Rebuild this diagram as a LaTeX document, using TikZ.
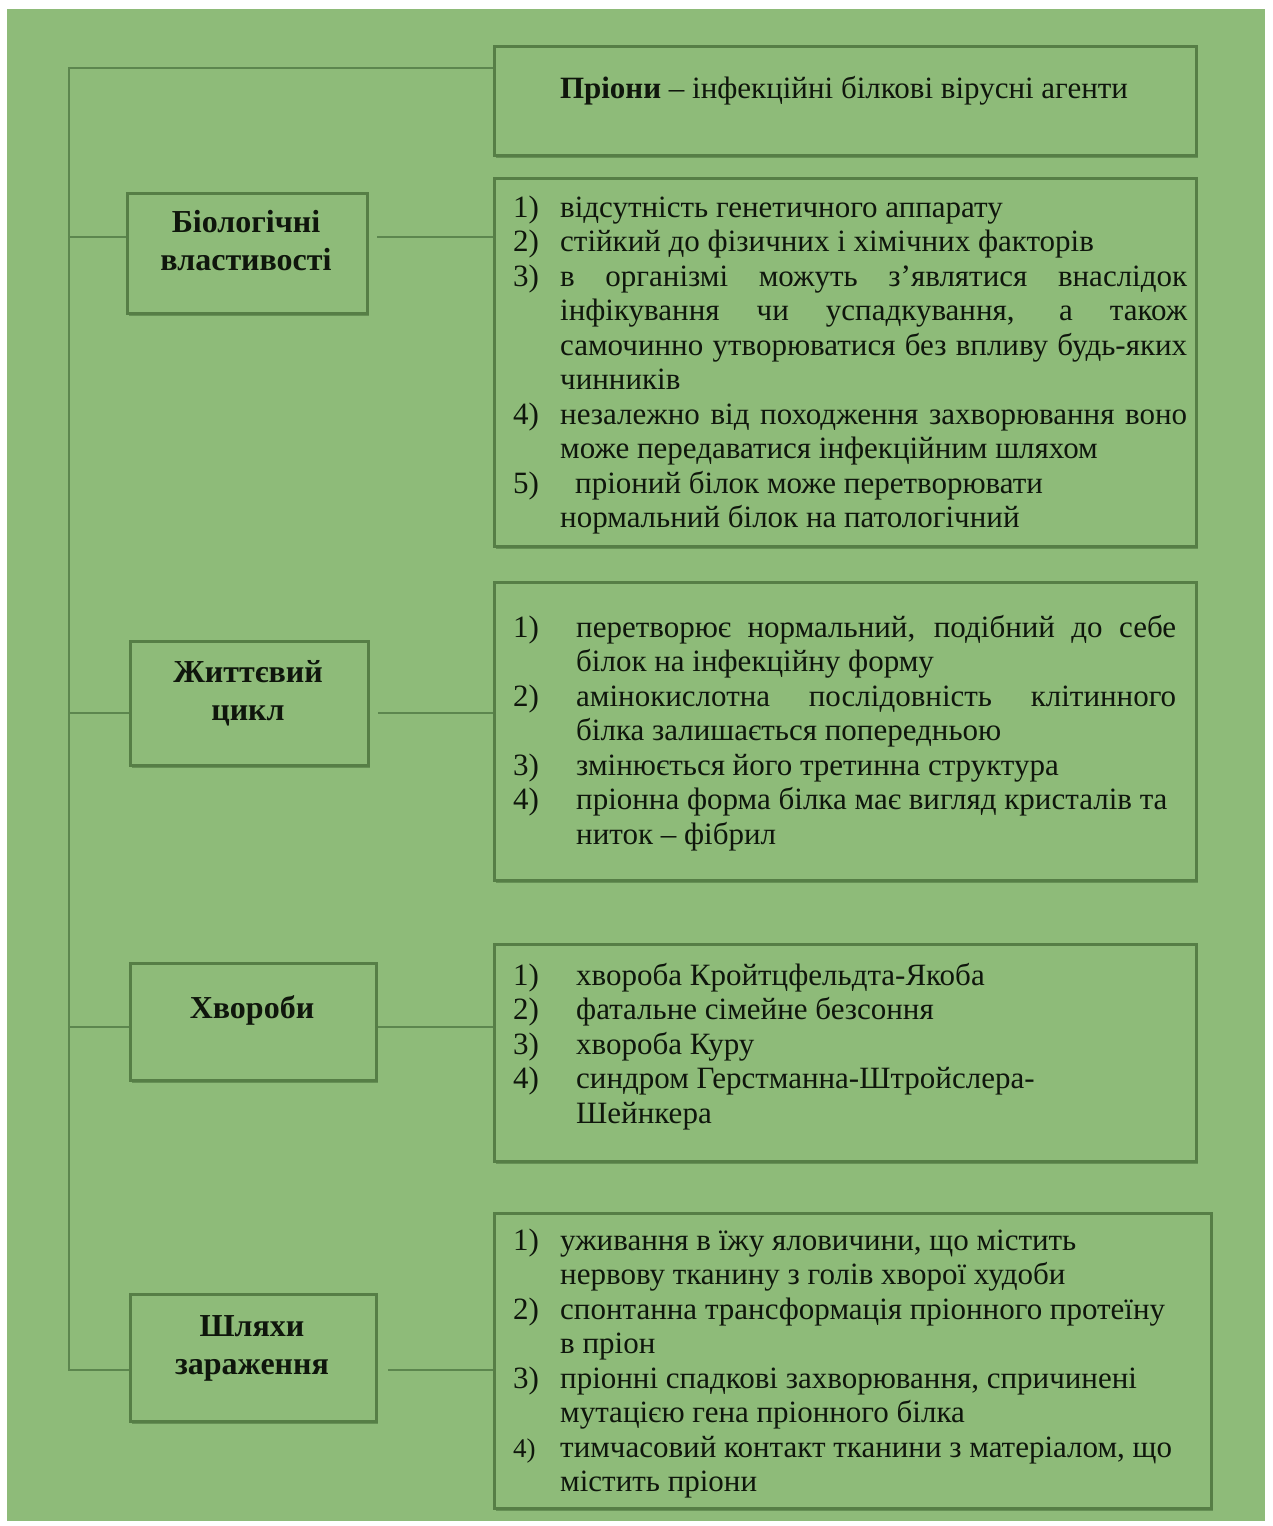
\documentclass[tikz,border=0pt]{standalone}
\usepackage{fontspec}
\setmainfont{Liberation Serif}
\usetikzlibrary{shadows}
\definecolor{bgc}{RGB}{142,187,121}
\definecolor{boxc}{RGB}{86,126,70}
\definecolor{linec}{RGB}{92,134,78}
\definecolor{txtc}{RGB}{15,22,12}
\newcommand\numi[2]{\makebox[#1][l]{#2}}
\newcommand\full[2]{\makebox[#1][s]{#2}}
\newcommand\ind[1]{\hspace*{#1}}
\newcommand\lf{\fontsize{31}{34.5}\selectfont}
\begin{document}
\begin{tikzpicture}[x=1pt,y=-1pt,
  box/.style={draw=boxc, line width=3pt, fill=bgc, inner sep=0pt, anchor=north west,
    drop shadow={shadow xshift=1pt, shadow yshift=-2pt, fill=boxc, opacity=0.7}},
  conn/.style={draw=linec, line width=2pt},
  lab/.style={font=\fontsize{32}{38}\selectfont\bfseries, align=center, text=txtc, inner sep=0pt},
  txt/.style={font=\lf, text=txtc, inner sep=0pt, anchor=base west}]
\fill[white] (0,0) rectangle (1272,1526);
\fill[bgc] (7,9) rectangle (1265,1521);
\useasboundingbox (0,0) rectangle (1272,1526);

% right boxes
\node[box, minimum width=702pt, minimum height=109pt] (top) at (493,45) {};
\node[box, minimum width=702pt, minimum height=368pt] (r1) at (493,177) {};
\node[box, minimum width=702pt, minimum height=298pt] (r2) at (493,581) {};
\node[box, minimum width=702pt, minimum height=217pt] (r3) at (493,943) {};
\node[box, minimum width=717pt, minimum height=295pt] (r4) at (493,1212) {};
% left boxes
\node[box, minimum width=240pt, minimum height=120pt] (bio) at (126,192) {};
\node[box, minimum width=238pt, minimum height=124pt] (zhyt) at (129,640) {};
\node[box, minimum width=246pt, minimum height=117pt] (khv) at (129,962) {};
\node[box, minimum width=246pt, minimum height=127pt] (shl) at (129,1293) {};

% left labels
\node[lab] (biot) at (246,241) {Біологічні\\властивості};
\node[lab] (zhytt) at (248,693) {Життєвий\\цикл};
\node[lab] (khvt) at (252,1010) {Хвороби};
\node[lab] (shlt) at (252,1348) {Шляхи\\зараження};

% connectors
\coordinate (tA) at (69,68);
\coordinate (j1) at (69,237);
\coordinate (j2) at (69,713);
\coordinate (j3) at (69,1027);
\coordinate (tB) at (69,1370);
\draw[conn] (top.west |- tA) -- (tA) -- (tB) -- (tB -| shl.west);
\draw[conn] (j1) -- (j1 -| bio.west);
\draw[conn] (j2) -- (j2 -| zhyt.west);
\draw[conn] (j3) -- (j3 -| khv.west);
\draw[conn, shorten <=8pt] (j1 -| bio.east) -- (j1 -| r1.west);
\draw[conn, shorten <=8pt] (j2 -| zhyt.east) -- (j2 -| r2.west);
\draw[conn] (j3 -| khv.east) -- (j3 -| r3.west);
\draw[conn, shorten <=10pt] (tB -| shl.east) -- (tB -| r4.west);

% top text
\node[txt, anchor=base] (topt) at (844,98) {\textbf{Пріони} – інфекційні білкові вірусні агенти};

% list 1
\node[txt] (r1t) at (513,217) {\parbox[t]{700pt}{\lf
\numi{47pt}{1)}відсутність генетичного аппарату\\
\numi{47pt}{2)}стійкий до фізичних і хімічних факторів\\
\numi{47pt}{3)}\full{627pt}{в організмі можуть з’являтися внаслідок}\\
\ind{47pt}\full{627pt}{інфікування чи успадкування, а також}\\
\ind{47pt}\full{627pt}{самочинно утворюватися без впливу будь-яких}\\
\ind{47pt}чинників\\
\numi{47pt}{4)}\full{627pt}{незалежно від походження захворювання воно}\\
\ind{47pt}може передаватися інфекційним шляхом\\
\numi{62pt}{5)}пріоний білок може перетворювати\\
\ind{47pt}нормальний білок на патологічний}};

% list 2
\node[txt] (r2t) at (513,637) {\parbox[t]{700pt}{\lf
\numi{63pt}{1)}\full{600pt}{перетворює нормальний, подібний до себе}\\
\ind{63pt}білок на інфекційну форму\\
\numi{63pt}{2)}\full{600pt}{амінокислотна послідовність клітинного}\\
\ind{63pt}білка залишається попередньою\\
\numi{63pt}{3)}змінюється його третинна структура\\
\numi{63pt}{4)}пріонна форма білка має вигляд кристалів та\\
\ind{63pt}ниток – фібрил}};

% list 3
\node[txt] (r3t) at (513,985) {\parbox[t]{700pt}{\lf
\numi{63pt}{1)}хвороба Кройтцфельдта-Якоба\\
\numi{63pt}{2)}фатальне сімейне безсоння\\
\numi{63pt}{3)}хвороба Куру\\
\numi{63pt}{4)}синдром Герстманна-Штройслера-\\
\ind{63pt}Шейнкера}};

% list 4
\node[txt] (r4t) at (513,1250) {\parbox[t]{700pt}{\lf
\numi{47pt}{1)}уживання в їжу яловичини, що містить\\
\ind{47pt}нервову тканину з голів хворої худоби\\
\numi{47pt}{2)}спонтанна трансформація пріонного протеїну\\
\ind{47pt}в пріон\\
\numi{47pt}{3)}пріонні спадкові захворювання, спричинені\\
\ind{47pt}мутацією гена пріонного білка\\
\numi{47pt}{{\fontsize{27}{34.5}\selectfont 4)}}тимчасовий контакт тканини з матеріалом, що\\
\ind{47pt}містить пріони}};
\end{tikzpicture}
\end{document}
